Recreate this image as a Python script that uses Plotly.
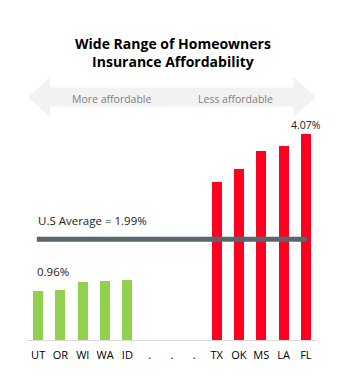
import plotly.graph_objects as go

labels = ["UT", "OR", "WI", "WA", "ID", ".", ".", ".", "TX", "OK", "MS", "LA", "FL"]
values = [0.96, 0.99, 1.15, 1.17, 1.18, None, None, None, 3.11, 3.38, 3.73, 3.82, 4.07]
us_average = 1.99
GREEN = "#92d050"
RED = "#ff0020"
colors = [GREEN] * 5 + ["rgba(0,0,0,0)"] * 3 + [RED] * 5
xs = list(range(len(labels)))

FONT = "Open Sans"
W, H = 346, 382
L, R, T, B = 27, 29, 112, 42
pw, ph = W - L - R, H - T - B

def px(x):
    return (x - L) / pw

def py(y):
    return (H - B - y) / ph

fig = go.Figure()
fig.add_trace(go.Bar(x=xs, y=values, marker=dict(color=colors, line=dict(width=0)),
                     width=0.45, hoverinfo="skip", showlegend=False))
fig.add_trace(go.Scatter(x=[-0.06, 12.05], y=[us_average, us_average], mode="lines",
                         line=dict(color="#59666e", width=5), hoverinfo="skip", showlegend=False))

# double arrow
pts = [(28.3, 97), (50, 77), (50, 87.5), (293.5, 87.5), (293.5, 77), (315.5, 97),
       (293.5, 117), (293.5, 106.5), (50, 106.5), (50, 117)]
path = "M " + " L ".join(f"{px(a):.4f},{py(b):.4f}" for a, b in pts) + " Z"
fig.add_shape(type="path", path=path, xref="paper", yref="paper",
              fillcolor="#f2f2f2", line=dict(width=0), layer="below")

ann = [
    dict(text="<b>Wide Range of Homeowners<br>Insurance Affordability</b>", x=px(173), y=py(53),
         size=14, color="#000000", xanchor="center"),
    dict(text="More affordable", x=px(112), y=py(99), size=10.5, color="#7f7f7f", xanchor="center"),
    dict(text="Less affordable", x=px(235), y=py(99), size=10.5, color="#7f7f7f", xanchor="center"),
    dict(text="U.S Average = 1.99%", x=px(36), y=py(220), size=11.5, color="#222222", xanchor="left"),
    dict(text="0.96%", x=px(35), y=py(271), size=11.5, color="#222222", xanchor="left"),
    dict(text="4.07%", x=px(306), y=py(125), size=10.5, color="#222222", xanchor="center"),
]
for a in ann:
    fig.add_annotation(text=a["text"], x=a["x"], y=a["y"], xref="paper", yref="paper",
                       xanchor=a["xanchor"], yanchor="middle", showarrow=False,
                       font=dict(family=FONT, size=a["size"], color=a["color"]))

fig.update_layout(
    width=W, height=H, margin=dict(l=L, r=R, t=T, b=B),
    paper_bgcolor="white", plot_bgcolor="white",
    font=dict(family=FONT, color="#000000"),
    xaxis=dict(range=[-0.5, 12.5], tickvals=xs, ticktext=labels, showgrid=False,
               showline=True, linecolor="#d9d9d9", linewidth=1, ticks="",
               ticklabelstandoff=5,
               tickfont=dict(family=FONT, size=11, color="#000000"), fixedrange=True),
    yaxis=dict(range=[0, 4.5], visible=False, showgrid=False, zeroline=False, fixedrange=True),
    bargap=0,
)
fig.write_html("out.html")
